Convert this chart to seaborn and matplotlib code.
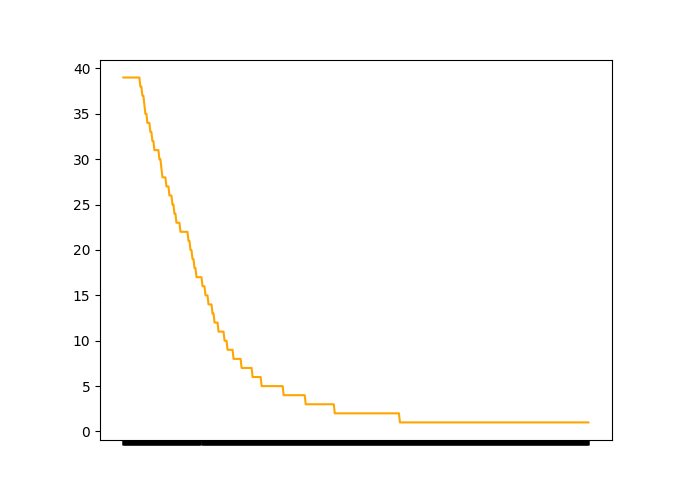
import matplotlib
matplotlib.use('Agg')
import matplotlib.pyplot as plt
import seaborn as sns
import numpy as np
import pandas as pd

# remaining count per level and how many time steps it stays there
levels = [39, 38, 37, 36, 35, 34, 33, 32, 31, 30, 29, 28, 27, 26, 25, 24, 23, 22, 21, 20,
          19, 18, 17, 16, 15, 14, 13, 12, 11, 10, 9, 8, 7, 6, 5, 4, 3, 2, 1]
durations = [17, 2, 2, 1, 2, 3, 2, 2, 5, 2, 1, 4, 3, 3, 2, 2, 4, 8, 2, 2,
             2, 2, 6, 3, 3, 4, 2, 4, 6, 3, 6, 8, 11, 9, 22, 22, 29, 65, 189]

count = np.repeat(levels, durations)
step = np.arange(len(count))
df = pd.DataFrame({'step': step, 'count': count})

fig, ax = plt.subplots(figsize=(6.95, 4.94), dpi=100)
plt.subplots_adjust(left=0.144, right=0.88, top=0.878, bottom=0.11)
sns.lineplot(data=df, x='step', y='count', color='orange', ax=ax, sort=False)
ax.set_xticks(step)
ax.set_xticklabels([])
ax.tick_params(axis='x', width=1.8)
ax.set_yticks(range(0, 41, 5))
ax.set_xlabel('')
ax.set_ylabel('')
plt.savefig('out.png', dpi=100)
